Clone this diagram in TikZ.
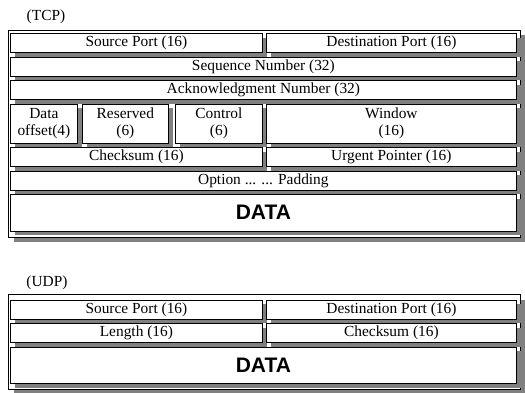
\documentclass[tikz,border=0pt]{standalone}
\usepackage{fontspec}
\setmainfont{Liberation Serif}
\setsansfont{Liberation Sans}
\usetikzlibrary{shadows}

\begin{document}
\begin{tikzpicture}[x=1pt,y=-1pt,
	field/.style={draw,line width=0.8pt,fill=white,inner sep=0pt,anchor=north west,
		align=center,font=\fontsize{15.4}{17}\selectfont,
		drop shadow={shadow xshift=4.5pt,shadow yshift=-4.5pt,fill=black!50,opacity=1}},
	pktframe/.style={draw,line width=1pt,fill=white,inner sep=0pt,anchor=north west,
		drop shadow={shadow xshift=5pt,shadow yshift=-5pt,fill=black!50,opacity=1}},
	data/.style={font=\sffamily\bfseries\fontsize{21}{21}\selectfont},
	title/.style={font=\fontsize{15.4}{17}\selectfont}]

	\useasboundingbox (0,0) rectangle (525,392);

	% TCP header
	\node[title] (tcp) at (46,17) {(TCP)};
	\node[pktframe,minimum width=512pt,minimum height=207pt] (tcpbox) at (8,29.5) {};

	\node[field,minimum width=252pt,minimum height=19pt] (tsrc) at (10,33) {Source Port (16)};
	\node[field,minimum width=250pt,minimum height=19pt] (tdst) at (266,33) {Destination Port (16)};
	\node[field,minimum width=506pt,minimum height=19pt] (tseq) at (10,56.5) {Sequence Number (32)};
	\node[field,minimum width=506pt,minimum height=19pt] (tack) at (10,80) {Acknowledgment Number (32)};
	\node[field,minimum width=67pt,minimum height=39pt] (toff) at (10,103.5) {Data\\offset(4)};
	\node[field,minimum width=86.5pt,minimum height=39pt] (trsv) at (81.7,103.5) {Reserved\\(6)};
	\node[field,minimum width=87pt,minimum height=39pt] (tctl) at (175,103.5) {Control\\(6)};
	\node[field,minimum width=250pt,minimum height=39pt] (twin) at (266,103.5) {Window\\(16)};
	\node[field,minimum width=252pt,minimum height=19pt] (tchk) at (10,147) {Checksum (16)};
	\node[field,minimum width=250pt,minimum height=19pt] (turg) at (266,147) {Urgent Pointer (16)};
	\node[field,minimum width=506pt,minimum height=19pt] (topt) at (10,170.5) {Option ... ... Padding};
	\node[field,data,minimum width=506pt,minimum height=36.5pt] (tdata) at (10,194) {DATA};

	% UDP header
	\node[title] (udp) at (47,283) {(UDP)};
	\node[pktframe,minimum width=512pt,minimum height=95pt] (udpbox) at (8,294) {};

	\node[field,minimum width=252pt,minimum height=19pt] (usrc) at (10,299.5) {Source Port (16)};
	\node[field,minimum width=250pt,minimum height=19pt] (udst) at (266,299.5) {Destination Port (16)};
	\node[field,minimum width=252pt,minimum height=19pt] (ulen) at (10,323) {Length (16)};
	\node[field,minimum width=250pt,minimum height=19pt] (uchk) at (266,323) {Checksum (16)};
	\node[field,data,minimum width=506pt,minimum height=36.5pt] (udata) at (10,346.5) {DATA};
\end{tikzpicture}
\end{document}
